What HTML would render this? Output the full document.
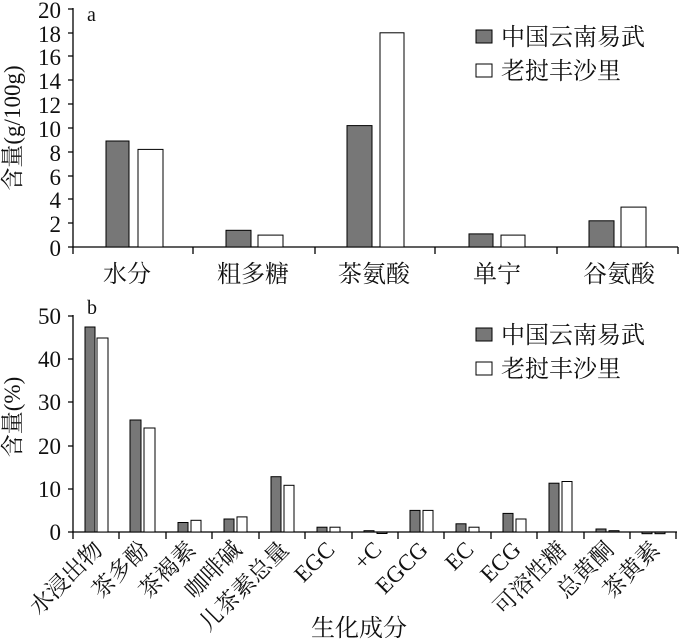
<!DOCTYPE html>
<html><head><meta charset="utf-8"><style>
body{margin:0;background:#fff}
svg{display:block}
text{font-family:"Liberation Serif","Noto Serif CJK SC","Noto Sans CJK SC",serif;fill:#111}
</style></head><body>
<svg width="679" height="644" viewBox="0 0 679 644" xmlns="http://www.w3.org/2000/svg">
<g stroke="#000" stroke-width="1.3" fill="none">
<line x1="73" y1="8" x2="73" y2="247"/>
<line x1="73" y1="247" x2="678" y2="247"/>
<path d="M68 9H73M68 33H73M68 56H73M68 80H73M68 104H73M68 128H73M68 152H73M68 176H73M68 199H73M68 223H73M68 247H73"/>
<path d="M73 247V254M193 247V254M315 247V254M435 247V254M557 247V254M678 247V254"/>
<line x1="73" y1="315" x2="73" y2="532"/>
<line x1="73" y1="532" x2="677" y2="532"/>
<path d="M68 316H73M68 359H73M68 402H73M68 446H73M68 489H73M68 532H73"/>
<path d="M73 532V539M119 532V539M166 532V539M212 532V539M259 532V539M305 532V539M352 532V539M398 532V539M444 532V539M491 532V539M537 532V539M584 532V539M630 532V539M676 532V539"/>
</g>
<g stroke="#000" stroke-width="1">
<rect x="106" y="141" width="23" height="106" fill="#777"/>
<rect x="138" y="149.4" width="25" height="97.6" fill="#fff"/>
<rect x="226" y="230.3" width="25" height="16.7" fill="#777"/>
<rect x="258" y="235.1" width="25" height="11.9" fill="#fff"/>
<rect x="347" y="125.6" width="25" height="121.4" fill="#777"/>
<rect x="380" y="32.8" width="24" height="214.2" fill="#fff"/>
<rect x="469" y="233.9" width="24" height="13.1" fill="#777"/>
<rect x="501" y="235.1" width="24" height="11.9" fill="#fff"/>
<rect x="589" y="220.8" width="25" height="26.2" fill="#777"/>
<rect x="621" y="207.1" width="25" height="39.9" fill="#fff"/>
</g>
<g stroke="#000" stroke-width="1">
<rect x="85" y="327" width="10" height="205" fill="#777"/>
<rect x="97" y="338" width="11" height="194" fill="#fff"/>
<rect x="130" y="420" width="11" height="112" fill="#777"/>
<rect x="144" y="428" width="11" height="104" fill="#fff"/>
<rect x="178" y="522.5" width="10" height="9.5" fill="#777"/>
<rect x="191" y="520.3" width="10" height="11.7" fill="#fff"/>
<rect x="224" y="519" width="10" height="13" fill="#777"/>
<rect x="237" y="516.9" width="10" height="15.1" fill="#fff"/>
<rect x="271" y="476.7" width="10" height="55.3" fill="#777"/>
<rect x="284" y="485.3" width="10" height="46.7" fill="#fff"/>
<rect x="317" y="527.2" width="10" height="4.8" fill="#777"/>
<rect x="330" y="527.2" width="10" height="4.8" fill="#fff"/>
<rect x="364" y="530.7" width="10" height="1.3" fill="#777"/>
<rect x="377" y="532" width="10" height="1.5" fill="#777"/>
<rect x="410" y="510.4" width="10" height="21.6" fill="#777"/>
<rect x="423" y="510.4" width="10" height="21.6" fill="#fff"/>
<rect x="456" y="523.8" width="10" height="8.2" fill="#777"/>
<rect x="469" y="527.2" width="10" height="4.8" fill="#fff"/>
<rect x="503" y="513.4" width="10" height="18.6" fill="#777"/>
<rect x="516" y="519" width="10" height="13" fill="#fff"/>
<rect x="549" y="483.2" width="10" height="48.8" fill="#777"/>
<rect x="562" y="481.5" width="10" height="50.5" fill="#fff"/>
<rect x="596" y="529" width="10" height="3" fill="#777"/>
<rect x="609" y="530.7" width="10" height="1.3" fill="#777"/>
<rect x="642" y="532" width="10" height="1.7" fill="#777"/>
<rect x="655" y="532" width="10" height="1.7" fill="#777"/>
</g>
<g font-size="23" text-anchor="end">
<text x="61" y="18">20</text><text x="61" y="42">18</text><text x="61" y="65">16</text><text x="61" y="89">14</text><text x="61" y="113">12</text><text x="61" y="137">10</text><text x="61" y="161">8</text><text x="61" y="185">6</text><text x="61" y="208">4</text><text x="61" y="232">2</text><text x="61" y="256">0</text>
</g>
<g font-size="24" text-anchor="middle">
<text x="127" y="282">水分</text><text x="253" y="282">粗多糖</text><text x="374" y="282">茶氨酸</text><text x="497" y="282">单宁</text><text x="619" y="282">谷氨酸</text>
</g>
<text x="87" y="21" font-size="20">a</text>
<text transform="translate(20,128) rotate(-90)" font-size="23" text-anchor="middle">含量(g/100g)</text>
<g stroke="#000" stroke-width="1">
<rect x="476" y="30" width="16" height="13" fill="#777"/>
<rect x="476" y="64" width="16" height="13" fill="#fff"/>
</g>
<text x="501" y="45" font-size="24">中国云南易武</text>
<text x="501" y="79" font-size="24">老挝丰沙里</text>
<g font-size="23" text-anchor="end">
<text x="61" y="324">50</text><text x="61" y="367">40</text><text x="61" y="410">30</text><text x="61" y="454">20</text><text x="61" y="497">10</text><text x="61" y="540">0</text>
</g>
<text x="87" y="314" font-size="20">b</text>
<text transform="translate(20,417) rotate(-90)" font-size="23" text-anchor="middle">含量(%)</text>
<g stroke="#000" stroke-width="1">
<rect x="476" y="328" width="16" height="13" fill="#777"/>
<rect x="476" y="362" width="16" height="13" fill="#fff"/>
</g>
<text x="501" y="343" font-size="24">中国云南易武</text>
<text x="501" y="377" font-size="24">老挝丰沙里</text>
<g font-size="23" text-anchor="end">
<text transform="translate(104,551) rotate(-45)">水浸出物</text>
<text transform="translate(150,551) rotate(-45)">茶多酚</text>
<text transform="translate(197,551) rotate(-45)">茶褐素</text>
<text transform="translate(243,551) rotate(-45)">咖啡碱</text>
<text transform="translate(290,551) rotate(-45)">儿茶素总量</text>
<text transform="translate(336,551) rotate(-45)">EGC</text>
<text transform="translate(383,551) rotate(-45)">+C</text>
<text transform="translate(429,551) rotate(-45)">EGCG</text>
<text transform="translate(475,551) rotate(-45)">EC</text>
<text transform="translate(522,551) rotate(-45)">ECG</text>
<text transform="translate(568,551) rotate(-45)">可溶性糖</text>
<text transform="translate(615,551) rotate(-45)">总黄酮</text>
<text transform="translate(661,551) rotate(-45)">茶黄素</text>
</g>
<text x="359" y="636" font-size="24" text-anchor="middle">生化成分</text>
</svg>
</body></html>
